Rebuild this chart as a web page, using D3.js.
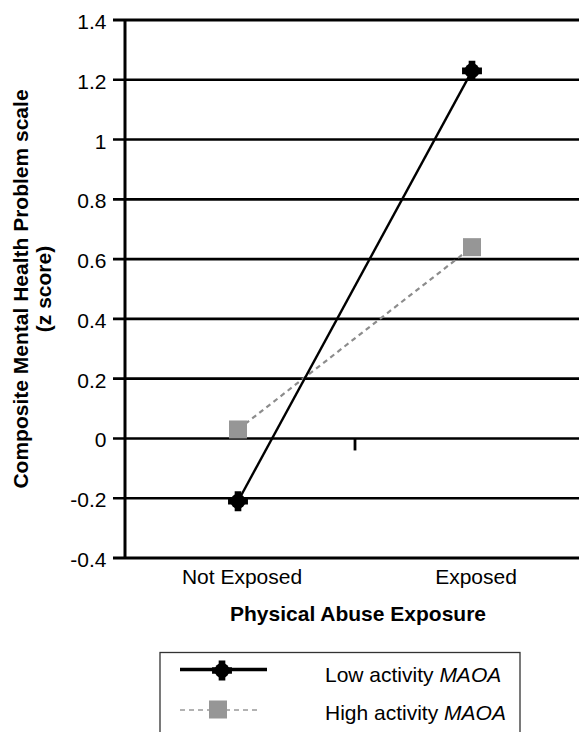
<!DOCTYPE html>
<html><head><meta charset="utf-8">
<script src="https://cdn.jsdelivr.net/npm/d3@7"></script>
<style>body{margin:0;background:#fff;} svg{display:block;font-family:"Liberation Sans",Arial,sans-serif;}</style>
</head><body><svg id="c" width="579" height="732"></svg>
<script>
const categories = ["Not Exposed", "Exposed"];
const lowMAOA = [-0.21, 1.23];
const highMAOA = [0.03, 0.64];
const yTicks = [-0.4, -0.2, 0, 0.2, 0.4, 0.6, 0.8, 1, 1.2, 1.4];
const tickLabels = ["-0.4","-0.2","0","0.2","0.4","0.6","0.8","1","1.2","1.4"];
const seriesNames = ["Low activity ", "High activity "];

const svg = d3.select("#c");
const y = d3.scaleLinear().domain([-0.4, 1.4]).range([558, 20]);
const x = d3.scalePoint().domain(categories).range([238, 472]);
const axisX = 125;
const FS = 21;

// gridlines
svg.append("g").selectAll("line").data(yTicks).join("line")
  .attr("x1", 113).attr("x2", 579)
  .attr("y1", d => y(d)).attr("y2", d => y(d))
  .attr("stroke", "#000").attr("stroke-width", d => (d === 1.4 || d === -0.4) ? 3.2 : 2.6);
// y axis
svg.append("line").attr("x1", axisX).attr("x2", axisX).attr("y1", y(1.4)).attr("y2", y(-0.4))
  .attr("stroke", "#000").attr("stroke-width", 3);
// tick labels
svg.append("g").selectAll("text").data(yTicks).join("text")
  .attr("x", 106.5).attr("y", d => y(d) + 9).attr("text-anchor", "end")
  .attr("font-size", FS).text((d, i) => tickLabels[i]);
// small tick at category boundary
const mid = (x(categories[0]) + x(categories[1])) / 2;
svg.append("line").attr("x1", mid).attr("x2", mid).attr("y1", y(0)).attr("y2", y(0) + 12)
  .attr("stroke", "#000").attr("stroke-width", 2.8);
// category labels
svg.append("g").selectAll("text").data(categories).join("text")
  .attr("x", d => x(d) + 4).attr("y", 584).attr("text-anchor", "middle").attr("font-size", FS).text(d => d);
svg.append("text").attr("x", 358).attr("y", 621).attr("text-anchor", "middle")
  .attr("font-size", FS).attr("font-weight", "bold").text("Physical Abuse Exposure");
// y title
const yt = svg.append("text").attr("transform", "translate(28,289) rotate(-90)")
  .attr("text-anchor", "middle").attr("font-size", FS).attr("font-weight", "bold");
yt.append("tspan").attr("x", 0).attr("dy", 0).text("Composite Mental Health Problem scale");
yt.append("tspan").attr("x", 0).attr("dy", 23).text("(z score)");

const line = d3.line().x((d, i) => x(categories[i])).y(d => y(d));
svg.append("path").datum(highMAOA).attr("d", line).attr("fill", "none")
  .attr("stroke", "#8c8c8c").attr("stroke-width", 2.2).attr("stroke-dasharray", "5,4");
svg.append("path").datum(lowMAOA).attr("d", line).attr("fill", "none")
  .attr("stroke", "#000").attr("stroke-width", 2.4);

function lowMarker(g, cx, cy) {
  g.append("path").attr("transform", `translate(${cx},${cy})`)
    .attr("d", d3.symbol(d3.symbolCross, 220)()).attr("fill", "#000");
  g.append("circle").attr("cx", cx).attr("cy", cy).attr("r", 7.5).attr("fill", "#000");
}
function highMarker(g, cx, cy) {
  g.append("rect").attr("x", cx - 9).attr("y", cy - 9).attr("width", 18).attr("height", 18).attr("fill", "#969696");
}
const mg = svg.append("g");
lowMAOA.forEach((v, i) => lowMarker(mg, x(categories[i]), y(v)));
highMAOA.forEach((v, i) => highMarker(mg, x(categories[i]), y(v)));

// legend
const lg = svg.append("g");
lg.append("rect").attr("x", 160).attr("y", 652.5).attr("width", 360).attr("height", 100)
  .attr("fill", "#fff").attr("stroke", "#333").attr("stroke-width", 1.3);
lg.append("line").attr("x1", 180).attr("x2", 267).attr("y1", 669.5).attr("y2", 669.5).attr("stroke", "#000").attr("stroke-width", 3.5);
lowMarker(lg, 222, 670.5);
lg.append("line").attr("x1", 180).attr("x2", 260).attr("y1", 710).attr("y2", 710).attr("stroke", "#999").attr("stroke-width", 1.6).attr("stroke-dasharray", "5,4");
highMarker(lg, 218, 709.5);
[682, 720].forEach((yy, i) => {
  const t = lg.append("text").attr("x", 325).attr("y", yy).attr("font-size", FS);
  t.append("tspan").text(seriesNames[i]);
  t.append("tspan").attr("font-style", "italic").text("MAOA");
});
</script></body></html>
